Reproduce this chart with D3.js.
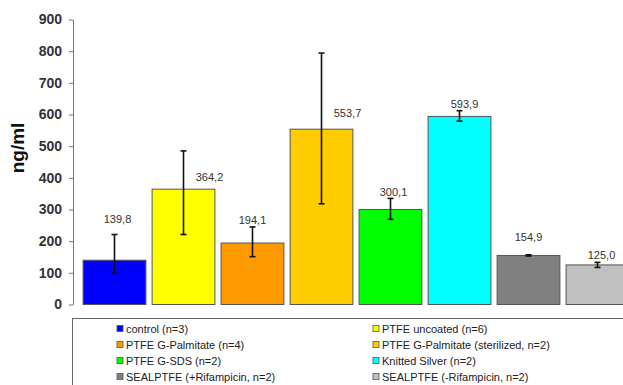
<!DOCTYPE html>
<html>
<head>
<meta charset="utf-8">
<script src="https://cdn.jsdelivr.net/npm/d3@7"></script>
<style>
  body { margin: 0; background: #fff; }
  svg { font-family: "Liberation Sans", Arial, sans-serif; }
</style>
</head>
<body>
<svg id="chart" width="623" height="385"></svg>
<script>
// data
const groups = ["control (n=3)", "PTFE uncoated (n=6)", "PTFE G-Palmitate (n=4)",
  "PTFE G-Palmitate (sterilized, n=2)", "PTFE G-SDS (n=2)", "Knitted Silver (n=2)",
  "SEALPTFE (+Rifampicin, n=2)", "SEALPTFE (-Rifampicin, n=2)"];
const values = [139.8, 364.2, 194.1, 553.7, 300.1, 593.9, 154.9, 125.0];
const errLow = [99, 221, 151, 318, 269, 579, 153, 117];
const errHigh = [221, 485, 245, 794, 335, 612, 157, 133];
const yTicks = [0, 100, 200, 300, 400, 500, 600, 700, 800, 900];
const colors = ["#0000ff", "#ffff00", "#ff9900", "#ffcc00", "#00ff00", "#00ffff", "#808080", "#c0c0c0"];
// label offsets (px) as placed in the original
const labelDx = [3, 26, 0, 26, 3, 5, 0, 4];
const labelDy = [-37, -8, -19, -12, -13, -8, -14, -6];

const svg = d3.select("#chart");

const x = d3.scaleBand()
    .domain(d3.range(values.length))
    .range([80, 632])
    .paddingInner(0.09)
    .paddingOuter(0.045);

const y = d3.scaleLinear()
    .domain([0, 900])
    .range([304.5, 19.5]);

// y axis
const yAxis = svg.append("g")
    .attr("transform", "translate(73,0)")
    .call(d3.axisLeft(y).tickValues(yTicks).tickSize(4).tickSizeOuter(0).tickPadding(7));
yAxis.select(".domain").attr("stroke", "#777");
yAxis.selectAll(".tick line").attr("stroke", "#777");
yAxis.selectAll(".tick text")
    .attr("fill", "#333")
    .attr("font-size", 14)
    .attr("font-weight", "bold")
    .attr("font-family", "Liberation Sans, Arial, sans-serif");

svg.append("text")
    .attr("transform", "translate(24,148) rotate(-90)")
    .attr("text-anchor", "middle")
    .attr("font-size", 19)
    .attr("font-weight", "bold")
    .attr("fill", "#111")
    .text("ng/ml");

// bars
svg.selectAll(".bar")
    .data(values)
    .enter().append("rect")
    .attr("class", "bar")
    .attr("x", (d, i) => x(i))
    .attr("y", d => y(d))
    .attr("width", x.bandwidth())
    .attr("height", d => y(0) - y(d))
    .attr("fill", (d, i) => colors[i])
    .attr("stroke", "#555")
    .attr("stroke-width", 1);

// error bars
const err = svg.selectAll(".err")
    .data(values)
    .enter().append("g")
    .attr("class", "err")
    .attr("stroke", "#111")
    .attr("stroke-width", 1.6);
err.append("line")
    .attr("x1", (d, i) => x(i) + x.bandwidth() / 2)
    .attr("x2", (d, i) => x(i) + x.bandwidth() / 2)
    .attr("y1", (d, i) => y(errLow[i]))
    .attr("y2", (d, i) => y(errHigh[i]));
err.append("line")
    .attr("x1", (d, i) => x(i) + x.bandwidth() / 2 - 3)
    .attr("x2", (d, i) => x(i) + x.bandwidth() / 2 + 3)
    .attr("y1", (d, i) => y(errHigh[i]))
    .attr("y2", (d, i) => y(errHigh[i]));
err.append("line")
    .attr("x1", (d, i) => x(i) + x.bandwidth() / 2 - 3)
    .attr("x2", (d, i) => x(i) + x.bandwidth() / 2 + 3)
    .attr("y1", (d, i) => y(errLow[i]))
    .attr("y2", (d, i) => y(errLow[i]));

// value labels
svg.selectAll(".val")
    .data(values)
    .enter().append("text")
    .attr("class", "val")
    .attr("x", (d, i) => x(i) + x.bandwidth() / 2 + labelDx[i])
    .attr("y", (d, i) => y(d) + labelDy[i])
    .attr("text-anchor", "middle")
    .attr("font-size", 11)
    .attr("fill", "#333")
    .text(d => d.toFixed(1).replace(".", ","));

// legend box
svg.append("rect")
    .attr("x", 72.5)
    .attr("y", 318.5)
    .attr("width", 600)
    .attr("height", 100)
    .attr("fill", "#fff")
    .attr("stroke", "#666");

const legend = svg.selectAll(".leg")
    .data(groups)
    .enter().append("g")
    .attr("class", "leg")
    .attr("transform", (d, i) => `translate(${i % 2 === 0 ? 117 : 373},${329 + Math.floor(i / 2) * 16})`);
legend.append("rect")
    .attr("x", 0).attr("y", -3.5)
    .attr("width", 6).attr("height", 6)
    .attr("fill", (d, i) => colors[i])
    .attr("stroke", "#555")
    .attr("stroke-width", 0.8);
legend.append("text")
    .attr("x", 9)
    .attr("dy", "0.35em")
    .attr("font-size", 11)
    .attr("fill", "#222")
    .text(d => d);
</script>
</body>
</html>
